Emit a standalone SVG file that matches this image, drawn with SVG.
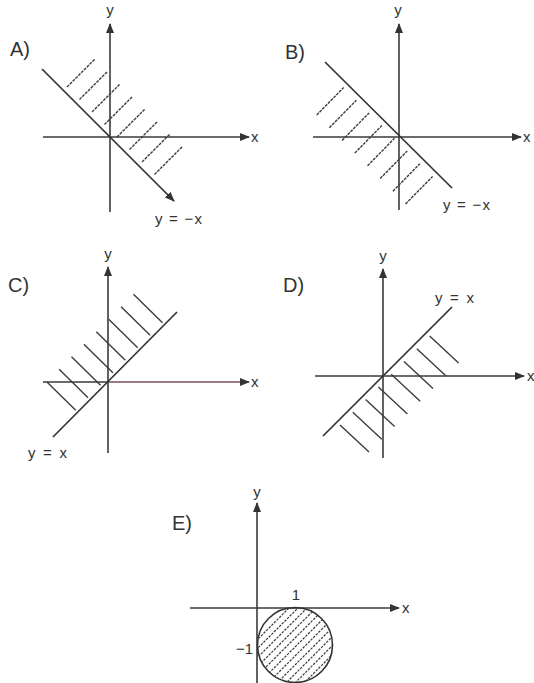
<svg xmlns="http://www.w3.org/2000/svg" width="534" height="683" viewBox="0 0 534 683">
<style>
.ax{stroke:#3a3a3a;stroke-width:1.6;fill:none}
.bd{stroke:#333;stroke-width:1.7;fill:none}
.ht{stroke:#3c3c3c;stroke-width:1.4;fill:none}
.hd{stroke:#3c3c3c;stroke-width:1.4;fill:none;stroke-dasharray:3 1}
.t{font-family:"Liberation Sans",Arial,sans-serif;fill:#333}
.lb{font-size:20px}
.sm{font-size:15px}
</style>
<defs>
<marker id="ah" viewBox="0 0 10 8" refX="9" refY="4" markerWidth="10" markerHeight="8" markerUnits="userSpaceOnUse" orient="auto"><path d="M0,0 L10,4 L0,8 z" fill="#333"/></marker>
<clipPath id="cc"><circle cx="295" cy="645" r="37"/></clipPath>
</defs>
<rect width="534" height="683" fill="#fff"/>

<g id="panelA">
<line class="ax" x1="43" y1="137" x2="249" y2="137" marker-end="url(#ah)"/>
<line class="ax" x1="110" y1="212" x2="110" y2="24" marker-end="url(#ah)"/>
<line class="bd" x1="42" y1="69" x2="174" y2="201" marker-end="url(#ah)"/>
<g class="hd">
<line x1="67" y1="87" x2="95" y2="59"/>
<line x1="79.5" y1="99.5" x2="107.5" y2="71.5"/>
<line x1="92" y1="112" x2="120" y2="84"/>
<line x1="104.5" y1="124.5" x2="132.5" y2="96.5"/>
<line x1="117" y1="137" x2="145" y2="109"/>
<line x1="129.5" y1="149.5" x2="157.5" y2="121.5"/>
<line x1="142" y1="162" x2="170" y2="134"/>
<line x1="154.5" y1="174.5" x2="182.5" y2="146.5"/>
</g>
<text class="t lb" x="10" y="56">A)</text>
<text class="t sm" x="110" y="15" text-anchor="middle">y</text>
<text class="t sm" x="251" y="142">x</text>
<text class="t sm" x="155" y="224" textLength="47" lengthAdjust="spacing">y = −x</text>
</g>

<g id="panelB">
<line class="ax" x1="313" y1="137" x2="521" y2="137" marker-end="url(#ah)"/>
<line class="ax" x1="399" y1="210" x2="399" y2="24" marker-end="url(#ah)"/>
<line class="bd" x1="325" y1="62" x2="452" y2="188"/>
<g class="hd">
<line x1="316.7" y1="115" x2="343.7" y2="87.5"/>
<line x1="329.4" y1="127.7" x2="356.4" y2="100.2"/>
<line x1="342.1" y1="140.4" x2="369.1" y2="112.9"/>
<line x1="354.8" y1="153.1" x2="381.8" y2="125.6"/>
<line x1="367.5" y1="165.8" x2="394.5" y2="138.3"/>
<line x1="380.2" y1="178.5" x2="407.2" y2="151"/>
<line x1="392.9" y1="191.2" x2="419.9" y2="163.7"/>
<line x1="405.6" y1="203.9" x2="432.6" y2="176.4"/>
</g>
<text class="t lb" x="285" y="59">B)</text>
<text class="t sm" x="398" y="15" text-anchor="middle">y</text>
<text class="t sm" x="523" y="142">x</text>
<text class="t sm" x="443" y="210" textLength="47" lengthAdjust="spacing">y = −x</text>
</g>

<g id="panelC">
<line class="ax" x1="43" y1="382" x2="108" y2="382"/>
<line x1="108" y1="382" x2="249" y2="382" stroke="#7d5057" stroke-width="1.6" marker-end="url(#ah)"/>
<line class="ax" x1="108" y1="453" x2="108" y2="267" marker-end="url(#ah)"/>
<line class="bd" x1="53" y1="437" x2="177" y2="312"/>
<g class="ht">
<line x1="46.7" y1="381.7" x2="75.7" y2="410.2"/>
<line x1="59.1" y1="369.2" x2="88.1" y2="397.7"/>
<line x1="71.5" y1="356.7" x2="100.5" y2="385.2"/>
<line x1="83.9" y1="344.2" x2="112.9" y2="372.7"/>
<line x1="96.3" y1="331.7" x2="125.3" y2="360.2"/>
<line x1="108.7" y1="319.2" x2="137.7" y2="347.7"/>
<line x1="121.1" y1="306.7" x2="150.1" y2="335.2"/>
<line x1="133.5" y1="294.2" x2="162.5" y2="322.7"/>
</g>
<text class="t lb" x="8" y="292">C)</text>
<text class="t sm" x="108" y="259" text-anchor="middle">y</text>
<text class="t sm" x="251" y="387">x</text>
<text class="t sm" x="28" y="458" textLength="39" lengthAdjust="spacing">y = x</text>
</g>

<g id="panelD">
<line class="ax" x1="315" y1="376" x2="524" y2="376" marker-end="url(#ah)"/>
<line class="ax" x1="383" y1="458" x2="383" y2="269" marker-end="url(#ah)"/>
<line class="bd" x1="323" y1="436" x2="452" y2="307"/>
<g class="ht">
<line x1="340" y1="425" x2="369" y2="452"/>
<line x1="352.8" y1="412.3" x2="381.8" y2="439.3"/>
<line x1="365.6" y1="399.6" x2="394.6" y2="426.6"/>
<line x1="378.4" y1="386.9" x2="407.4" y2="413.9"/>
<line x1="391.2" y1="374.2" x2="420.2" y2="401.2"/>
<line x1="404" y1="361.5" x2="433" y2="388.5"/>
<line x1="416.8" y1="348.8" x2="445.8" y2="375.8"/>
<line x1="429.6" y1="336.1" x2="458.6" y2="363.1"/>
</g>
<text class="t lb" x="283" y="292">D)</text>
<text class="t sm" x="383" y="261" text-anchor="middle">y</text>
<text class="t sm" x="527" y="381">x</text>
<text class="t sm" x="435" y="303" textLength="39" lengthAdjust="spacing">y = x</text>
</g>

<g id="panelE">
<line class="ax" x1="190" y1="608" x2="399" y2="608" marker-end="url(#ah)"/>
<line class="ax" x1="257" y1="683" x2="257" y2="503" marker-end="url(#ah)"/>
<g clip-path="url(#cc)" stroke="#3c3c3c" stroke-width="1.2" stroke-dasharray="2.5 1.2">
<line x1="240" y1="657" x2="350" y2="547"/>
<line x1="240" y1="666" x2="350" y2="556"/>
<line x1="240" y1="675" x2="350" y2="565"/>
<line x1="240" y1="684" x2="350" y2="574"/>
<line x1="240" y1="693" x2="350" y2="583"/>
<line x1="240" y1="702" x2="350" y2="592"/>
<line x1="240" y1="711" x2="350" y2="601"/>
<line x1="240" y1="720" x2="350" y2="610"/>
<line x1="240" y1="729" x2="350" y2="619"/>
<line x1="240" y1="738" x2="350" y2="628"/>
<line x1="240" y1="747" x2="350" y2="637"/>
<line x1="240" y1="756" x2="350" y2="646"/>
</g>
<circle cx="295" cy="645" r="37.5" fill="none" stroke="#333" stroke-width="1.6"/>
<text class="t lb" x="172" y="530">E)</text>
<text class="t sm" x="257" y="497" text-anchor="middle">y</text>
<text class="t sm" x="402" y="613">x</text>
<text class="t sm" x="296" y="600" text-anchor="middle">1</text>
<text class="t sm" x="253" y="654" text-anchor="end">−1</text>
</g>
</svg>
